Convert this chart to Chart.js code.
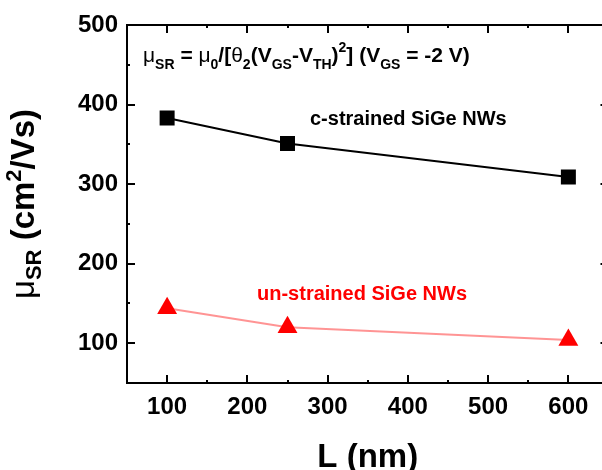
<!DOCTYPE html>
<html><head><meta charset="utf-8">
<script src="https://cdn.jsdelivr.net/npm/chart.js@4/dist/chart.umd.min.js"></script>
<style>html,body{margin:0;padding:0;overflow:hidden;background:#fff;width:602px;height:470px}canvas{display:block}</style>
</head><body>
<canvas id="c" width="620" height="470" style="width:620px;height:470px"></canvas>
<script>
// ---- data ----
const lengths = [100, 250, 600];
const strainedMobility = [383, 351, 309];
const unstrainedMobility = [144, 120, 104];
const xLabelValues = [100, 200, 300, 400, 500, 600];
const yLabelValues = [100, 200, 300, 400, 500];
const strainedLabel = 'c-strained SiGe NWs';
const unstrainedLabel = 'un-strained SiGe NWs';

const FONT = '"Liberation Sans", Arial, sans-serif';

function drawRich(ctx, segs, x, y, align) {
  let total = 0;
  segs.forEach(s => { ctx.font = s.f; s.w = ctx.measureText(s.t).width; total += s.w; });
  let cx = align === 'center' ? x - total / 2 : x;
  segs.forEach(s => {
    ctx.font = s.f;
    ctx.fillText(s.t, cx, y + (s.dy || 0));
    cx += s.w;
  });
}

const framePlugin = {
  id: 'frame',
  afterDraw(chart) {
    const ctx = chart.ctx, a = chart.chartArea;
    const xs = chart.scales.x, ys = chart.scales.y;
    ctx.save();
    ctx.strokeStyle = '#000';
    ctx.lineWidth = 2;
    ctx.beginPath();
    ctx.rect(a.left, a.top, a.right - a.left, a.bottom - a.top);
    ctx.stroke();
    ctx.lineWidth = 2;
    ctx.beginPath();
    xs.ticks.forEach(t => {
      const v = t.value;
      const px = Math.round(xs.getPixelForValue(v));
      const len = (v % 100 === 0) ? 8 : 3;
      ctx.moveTo(px, a.bottom); ctx.lineTo(px, a.bottom - len);
      ctx.moveTo(px, a.top); ctx.lineTo(px, a.top + len);
    });
    ys.ticks.forEach(t => {
      const v = t.value;
      const py = Math.round(ys.getPixelForValue(v));
      const len = (v % 100 === 0) ? 8 : 3;
      ctx.moveTo(a.left, py); ctx.lineTo(a.left + len, py);
      ctx.moveTo(a.right, py); ctx.lineTo(a.right - len, py);
    });
    ctx.stroke();

    // series annotations
    ctx.textBaseline = 'middle';
    ctx.textAlign = 'left';
    ctx.font = 'bold 20px ' + FONT;
    ctx.fillStyle = '#000';
    ctx.fillText(strainedLabel, xs.getPixelForValue(278), ys.getPixelForValue(381));
    ctx.fillStyle = '#ff0000';
    ctx.fillText(unstrainedLabel, xs.getPixelForValue(212), ys.getPixelForValue(161));

    // equation
    ctx.fillStyle = '#000';
    ctx.textBaseline = 'alphabetic';
    const B = 'bold 21px ' + FONT, N = '21px ' + FONT, S = 'bold 14px ' + FONT;
    drawRich(ctx, [
      {t: 'μ', f: N}, {t: 'SR', f: S, dy: 7}, {t: ' = ', f: B}, {t: 'μ', f: N}, {t: '0', f: S, dy: 7},
      {t: '/[', f: B}, {t: 'θ', f: N}, {t: '2', f: S, dy: 7}, {t: '(V', f: B}, {t: 'GS', f: S, dy: 7},
      {t: '-V', f: B}, {t: 'TH', f: S, dy: 7}, {t: ')', f: B}, {t: '2', f: S, dy: -10},
      {t: '] (V', f: B}, {t: 'GS', f: S, dy: 7}, {t: ' = -2 V)', f: B}
    ], 143, 62, 'left');

    // y axis title
    ctx.save();
    ctx.translate(34, (a.top + a.bottom) / 2);
    ctx.rotate(-Math.PI / 2);
    const TB = 'bold 33px ' + FONT, TN = '33px ' + FONT, TS = 'bold 22px ' + FONT;
    drawRich(ctx, [
      {t: 'μ', f: TN}, {t: 'SR', f: TS, dy: 7}, {t: ' (cm', f: TB}, {t: '2', f: TS, dy: -13}, {t: '/Vs)', f: TB}
    ], 0, 0, 'center');
    ctx.restore();

    // x axis title
    ctx.textAlign = 'center';
    ctx.font = 'bold 33px ' + FONT;
    ctx.fillText('L (nm)', (a.left + a.right) / 2, 467);
    ctx.restore();
  }
};

new Chart(document.getElementById('c'), {
  type: 'line',
  data: {
    datasets: [
      {
        data: lengths.map((x, i) => ({x, y: strainedMobility[i]})),
        borderColor: '#000', backgroundColor: '#000', borderWidth: 2,
        pointStyle: 'rect', pointRadius: 10.6, pointBorderWidth: 0, pointBackgroundColor: '#000'
      },
      {
        data: lengths.map((x, i) => ({x, y: unstrainedMobility[i]})),
        borderColor: 'rgba(255,60,60,0.55)', borderWidth: 2,
        pointStyle: 'triangle', pointRadius: 11.5, pointBorderWidth: 0, pointBackgroundColor: '#ff0000'
      }
    ]
  },
  options: {
    responsive: false,
    animation: false,
    plugins: { legend: { display: false }, tooltip: { enabled: false } },
    layout: { padding: { top: 25, right: 11, left: 0, bottom: 0 } },
    scales: {
      x: {
        type: 'linear', min: 50, max: 650,
        grid: { display: false, drawTicks: false },
        border: { display: false },
        afterFit: s => { s.height = 87; },
        ticks: {
          stepSize: 50, padding: 10, color: '#000', maxRotation: 0, autoSkip: false,
          font: { family: FONT, size: 24, weight: 'bold' },
          callback: v => xLabelValues.includes(v) ? String(v) : ''
        }
      },
      y: {
        type: 'linear', min: 50, max: 500,
        grid: { display: false, drawTicks: false },
        border: { display: false },
        afterFit: s => { s.width = 127; },
        ticks: {
          stepSize: 50, padding: 9, color: '#000', autoSkip: false,
          font: { family: FONT, size: 24, weight: 'bold' },
          callback: v => yLabelValues.includes(v) ? String(v) : ''
        }
      }
    }
  },
  plugins: [framePlugin]
});
</script>
</body></html>
